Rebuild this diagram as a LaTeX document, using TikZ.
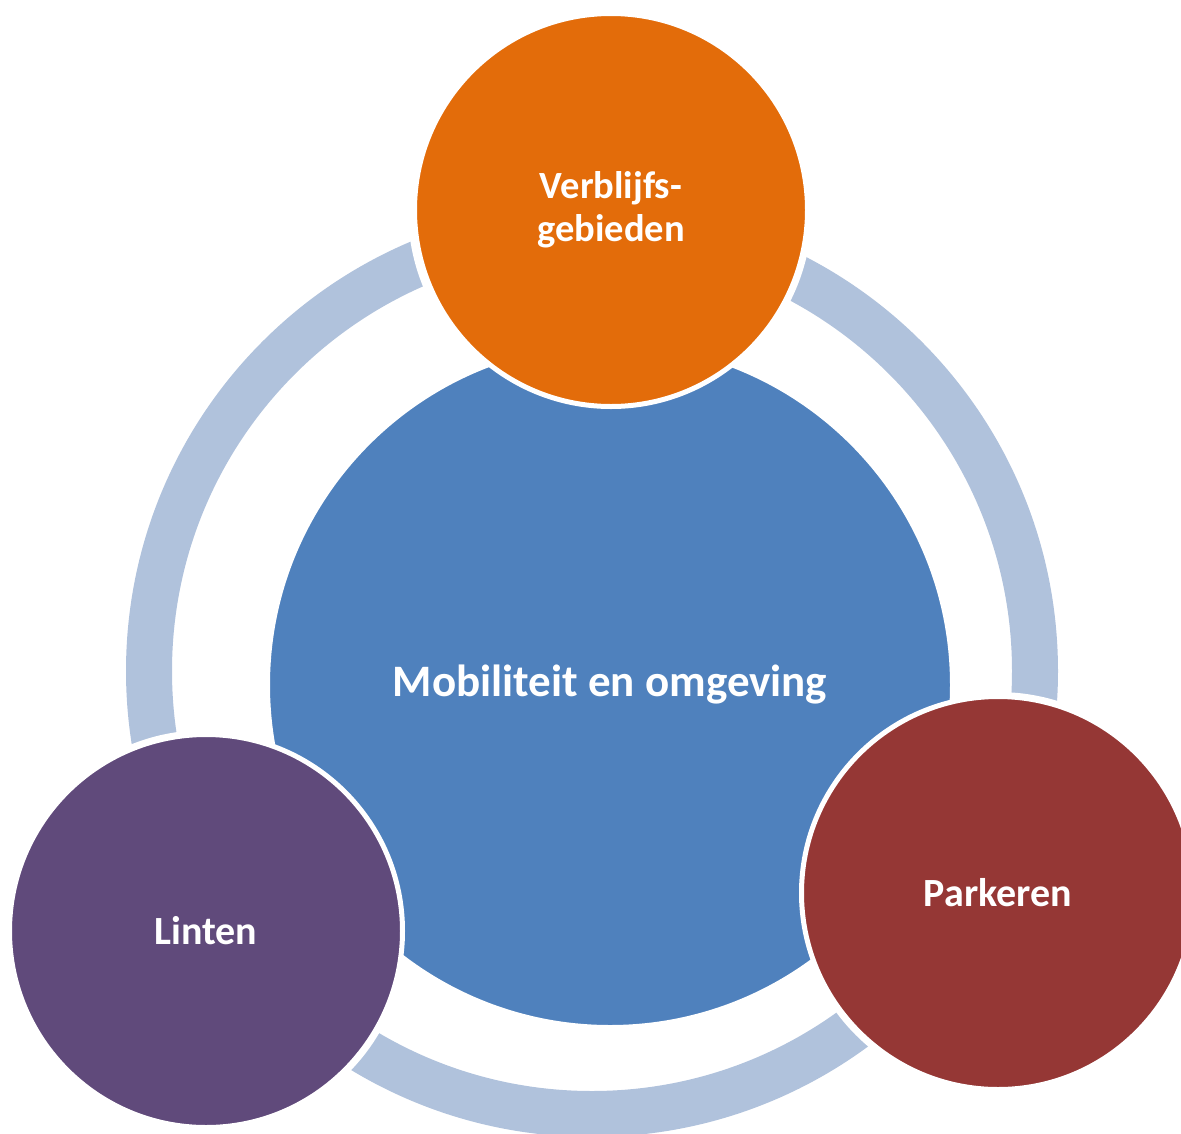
\documentclass[tikz,border=0pt]{standalone}
\usepackage{fontspec}
\setmainfont{Carlito}
\definecolor{ringc}{HTML}{B0C2DC}
\definecolor{mainc}{HTML}{4F81BD}
\definecolor{orangec}{HTML}{E36C0A}
\definecolor{redc}{HTML}{953735}
\definecolor{purplec}{HTML}{604A7B}
\begin{document}
\begin{tikzpicture}[x=1pt,y=-1pt,
  bubble/.style={circle,draw=white,line width=5pt,text=white,font=\bfseries\fontsize{40}{43}\selectfont,align=center,inner sep=0pt},
  clear/.style={circle,fill=white,inner sep=0pt}]
\useasboundingbox (0,0) rectangle (1181,1133);
\draw[ringc,line width=46pt] (592,671) circle[radius=443pt];
% clearing discs that cut the ring
\node[clear,minimum size=404pt] at (610,210) {};
\node[clear,minimum size=402pt] at (998,893) {};
\node[clear,minimum size=402pt] at (206,931) {};
\node[bubble,fill=mainc,minimum size=685pt,font=\bfseries\fontsize{45}{50}\selectfont] (m) at (610,685) {Mobiliteit en omgeving};
\node[bubble,fill=orangec,minimum size=393pt,font=\bfseries\fontsize{38.5}{43}\selectfont] (v) at (611,210) {Verblijfs-\\gebieden};
\node[bubble,fill=redc,minimum size=393pt] (p) at (998,893) {Parkeren};
\node[bubble,fill=purplec,minimum size=393pt] (l) at (206,931) {Linten};
\end{tikzpicture}
\end{document}
